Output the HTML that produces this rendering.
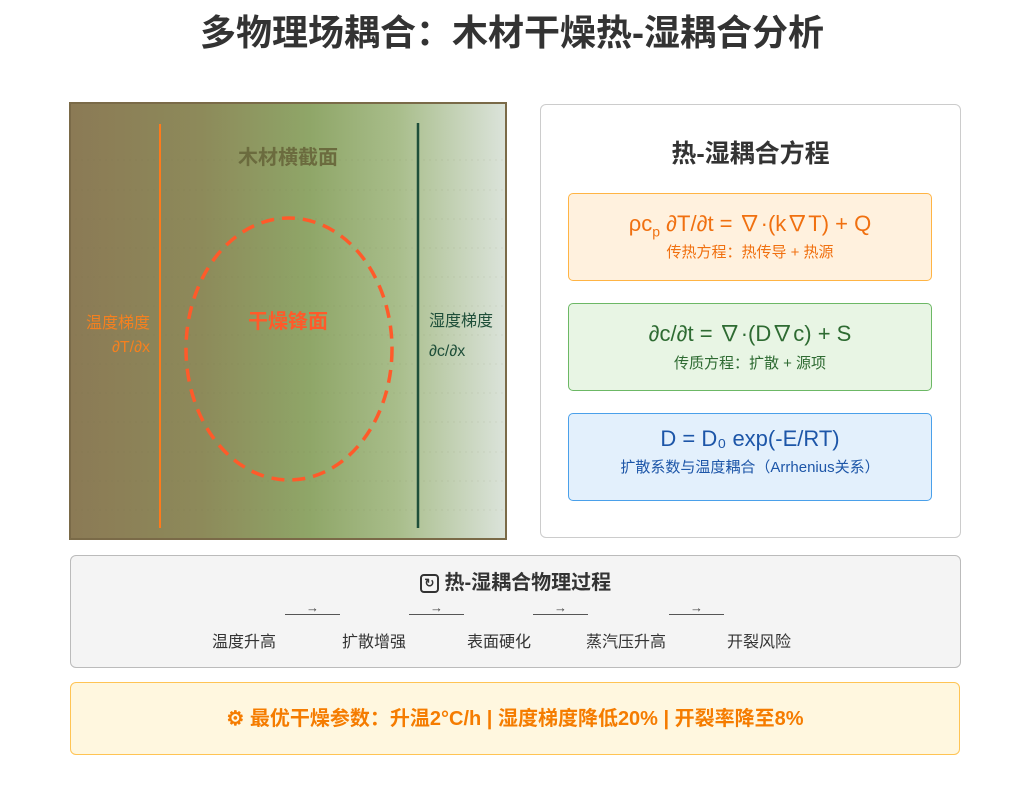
<!DOCTYPE html>
<html><head><meta charset="utf-8"><style>
*{margin:0;padding:0;box-sizing:border-box}
body{width:1024px;height:787px;background:#fff;font-family:"Liberation Sans","Noto Sans CJK SC",sans-serif;position:relative;overflow:hidden}
.a{position:absolute}
.c{text-align:center}
</style></head><body>
<div class="a c" style="left:0;top:9px;width:1024px;font-size:36px;font-weight:bold;color:#333;line-height:48px">多物理场耦合：木材干燥热-湿耦合分析</div>

<div class="a" style="left:69px;top:102px;width:438px;height:438px;border:2px solid #7a6a48;background:linear-gradient(90deg,#8b7a55 0%,#8d8a5a 30%,#8fa668 55%,#a8bd8a 75%,#dbe3da 100%)"></div>
<svg class="a" style="left:69px;top:102px" width="438" height="438">
<g stroke="#6d6a48" stroke-width="0.6" stroke-dasharray="2,4" opacity="0.2">
<line x1="0" y1="58" x2="438" y2="58"/><line x1="0" y1="88" x2="438" y2="88"/><line x1="0" y1="117" x2="438" y2="117"/><line x1="0" y1="146" x2="438" y2="146"/><line x1="0" y1="175" x2="438" y2="175"/><line x1="0" y1="204" x2="438" y2="204"/><line x1="0" y1="233" x2="438" y2="233"/><line x1="0" y1="262" x2="438" y2="262"/><line x1="0" y1="291" x2="438" y2="291"/><line x1="0" y1="320" x2="438" y2="320"/><line x1="0" y1="350" x2="438" y2="350"/><line x1="0" y1="379" x2="438" y2="379"/><line x1="0" y1="408" x2="438" y2="408"/>
</g>
<line x1="91" y1="22" x2="91" y2="426" stroke="#ff7a1a" stroke-width="2"/>
<line x1="349" y1="21" x2="349" y2="426" stroke="#1f4f3a" stroke-width="2.5"/>
<ellipse cx="220" cy="247" rx="103" ry="131" fill="none" stroke="#ff5a2a" stroke-width="3.5" stroke-dasharray="13,8"/>
</svg>
<div class="a c" style="left:188px;top:141px;width:200px;font-size:20px;font-weight:bold;color:#6b6b3e">木材横截面</div>
<div class="a c" style="left:188px;top:305px;width:200px;font-size:20px;font-weight:bold;color:#ff5a2a">干燥锋面</div>
<div class="a" style="left:74px;top:312px;width:76px;font-size:16px;color:#f5801f;text-align:right;line-height:24px">温度梯度<br>∂T/∂x</div>
<div class="a" style="left:429px;top:307px;font-size:16px;color:#1f4f3a;line-height:30px">湿度梯度<br>∂c/∂x</div>

<div class="a" style="left:540px;top:104px;width:421px;height:434px;border:1px solid #ccc;border-radius:6px;background:#fff"></div>
<div class="a c" style="left:540px;top:134px;width:421px;font-size:25px;font-weight:bold;color:#333">热-湿耦合方程</div>
<div class="a c" style="left:568px;top:193px;width:364px;height:88px;background:#fff1de;border:1.5px solid #ffb444;border-radius:5px;color:#f07010">
<div style="font-size:22px;margin-top:12px">ρc<sub style="font-size:14px">p</sub> ∂T/∂t = ∇·(k∇T) + Q</div><div style="font-size:15px;margin-top:2px">传热方程：热传导 + 热源</div></div>
<div class="a c" style="left:568px;top:303px;width:364px;height:88px;background:#e8f5e4;border:1.5px solid #6cb865;border-radius:5px;color:#2e6b32">
<div style="font-size:22px;margin-top:12px">∂c/∂t = ∇·(D∇c) + S</div><div style="font-size:15px;margin-top:4px">传质方程：扩散 + 源项</div></div>
<div class="a c" style="left:568px;top:413px;width:364px;height:88px;background:#e3f0fc;border:1.5px solid #4aa0ea;border-radius:5px;color:#1d56a8">
<div style="font-size:22px;margin-top:12px">D = D₀ exp(-E/RT)</div><div style="font-size:15px;margin-top:4px">扩散系数与温度耦合（Arrhenius关系）</div></div>

<div class="a" style="left:70px;top:555px;width:891px;height:113px;background:#f4f4f4;border:1px solid #bbb;border-radius:6px"></div>
<div class="a c" style="left:70px;top:566px;width:891px;font-size:20px;font-weight:bold;color:#333"><span style="display:inline-block;width:19px;height:19px;border:2px solid #333;border-radius:4px;font-size:12px;line-height:15px;vertical-align:2px">↻</span> 热-湿耦合物理过程</div>
<div class="a" style="left:285px;top:602px;width:55px;border-bottom:1.5px solid #555;text-align:center;font-size:13px;color:#444;line-height:12px">→</div>
<div class="a" style="left:409px;top:602px;width:55px;border-bottom:1.5px solid #555;text-align:center;font-size:13px;color:#444;line-height:12px">→</div>
<div class="a" style="left:533px;top:602px;width:55px;border-bottom:1.5px solid #555;text-align:center;font-size:13px;color:#444;line-height:12px">→</div>
<div class="a" style="left:669px;top:602px;width:55px;border-bottom:1.5px solid #555;text-align:center;font-size:13px;color:#444;line-height:12px">→</div>
<div class="a" style="left:212px;top:628px;font-size:16px;color:#333">温度升高</div>
<div class="a" style="left:342px;top:628px;font-size:16px;color:#333">扩散增强</div>
<div class="a" style="left:467px;top:628px;font-size:16px;color:#333">表面硬化</div>
<div class="a" style="left:586px;top:628px;font-size:16px;color:#333">蒸汽压升高</div>
<div class="a" style="left:727px;top:628px;font-size:16px;color:#333">开裂风险</div>

<div class="a" style="left:70px;top:682px;width:890px;height:73px;background:#fff7df;border:1.5px solid #ffc454;border-radius:6px"></div>
<div class="a c" style="left:70px;top:702px;width:890px;font-size:20px;font-weight:bold;color:#f57c00">⚙ 最优干燥参数：升温2°C/h | 湿度梯度降低20% | 开裂率降至8%</div>
</body></html>
